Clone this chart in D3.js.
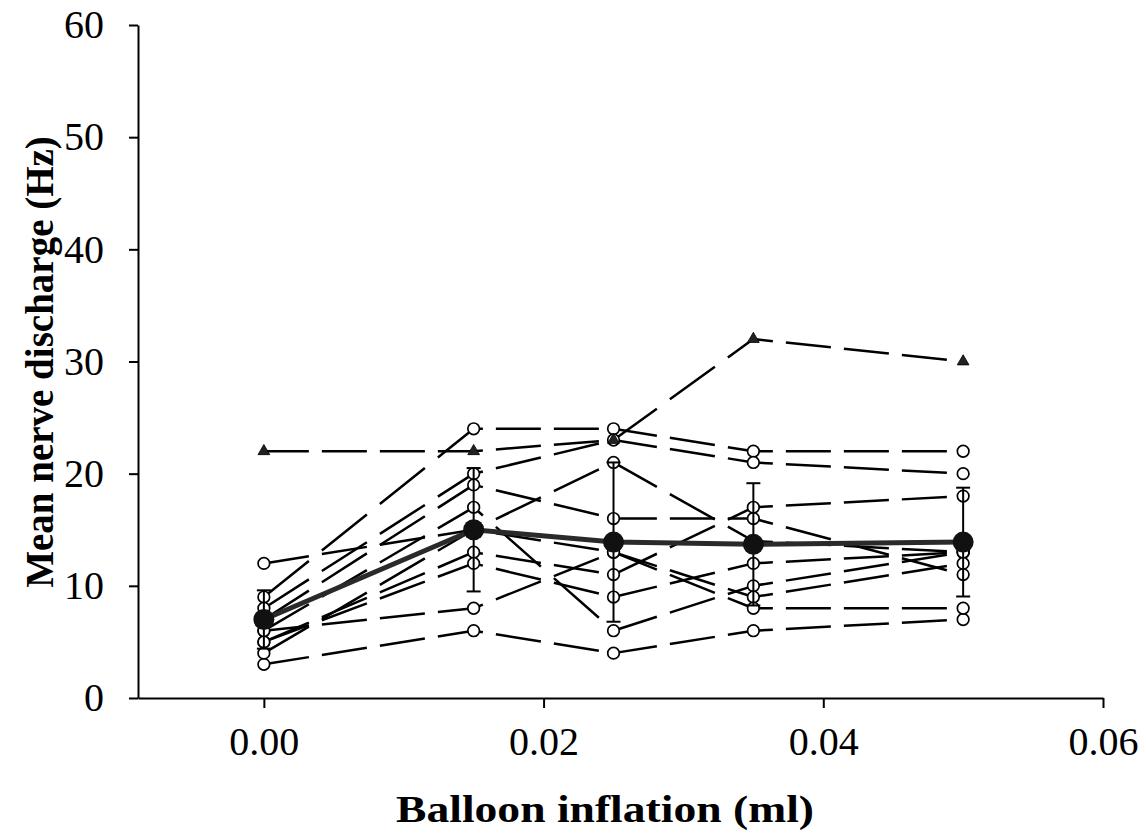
<!DOCTYPE html>
<html>
<head>
<meta charset="utf-8">
<script src="https://cdn.jsdelivr.net/npm/d3@7"></script>
<style>
  body { margin: 0; background: #fff; }
  svg text { font-family: "Liberation Serif", "Times New Roman", serif; fill: #000; }
</style>
</head>
<body>
<div id="chart"></div>
<script>
// balloon volumes (ml)
var volumes = [0, 0.015, 0.025, 0.035, 0.05];

// single fibres, open circles
var circleSeries = [
    [9, 24, 24, 22, 22],
    [8, 20, 23, 21, 20],
    [12, 15, 21, 14, 13],
    [7, 19, 16, 16, 11],
    [6, 17, 6, 10, 13],
    [5, 13, 11, 17, 18],
    [5, 12, 9, 12, 13],
    [6, 8, 13, 9, 12],
    [3, 6, 4, 6, 7],
    [4, 15, 13, 8, 8]
];

// fibre shown with triangles
var triangleSeries = [22, 22, 23, 32, 30];

// mean and error
var meanValues = [7.0, 15.0, 13.9, 13.7, 13.9];
var meanErrors = [2.6, 5.5, 7.1, 5.45, 4.85];

var xTicks = [0, 0.02, 0.04, 0.06];
var yTicks = [0, 10, 20, 30, 40, 50, 60];

var width = 1146, height = 835;

var svg = d3.select("#chart").append("svg")
    .attr("width", width)
    .attr("height", height);

var x = d3.scaleLinear().domain([-0.009, 0.06]).range([138, 1103]);
var y = d3.scaleLinear().domain([0, 60]).range([698, 25]);

// axes
svg.append("g")
    .attr("transform", "translate(0," + y(0) + ")")
    .call(d3.axisBottom(x).tickValues(xTicks).tickSize(10).tickSizeOuter(0).tickPadding(19)
        .tickFormat(d3.format(".2f")))
    .call(function(g) {
        g.select(".domain").attr("stroke-width", 2);
        g.selectAll(".tick line").attr("stroke-width", 2);
        g.selectAll(".tick text").style("font-size", "40px").attr("font-family", null);
    });

svg.append("g")
    .attr("transform", "translate(" + x(-0.009) + ",0)")
    .call(d3.axisLeft(y).tickValues(yTicks).tickSize(9).tickSizeOuter(0).tickPadding(25))
    .call(function(g) {
        g.select(".domain").attr("stroke-width", 2);
        g.selectAll(".tick line").attr("stroke-width", 2);
        g.selectAll(".tick text").style("font-size", "40px").attr("font-family", null);
    });

svg.append("text")
    .attr("x", 605).attr("y", 822)
    .attr("text-anchor", "middle")
    .attr("textLength", 418)
    .attr("lengthAdjust", "spacingAndGlyphs")
    .style("font-size", "38px").style("font-weight", "bold")
    .text("Balloon inflation (ml)");

svg.append("text")
    .attr("transform", "translate(53,362) rotate(-90)")
    .attr("text-anchor", "middle")
    .style("font-size", "39px").style("font-weight", "bold")
    .text("Mean nerve discharge (Hz)");

// dashes follow the x direction, so each segment gets its own scaled pattern
var dashPeriod = 58, dashOn = 45;

function drawDashed(values, color) {
    for (var i = 0; i < values.length - 1; i++) {
        var x1 = x(volumes[i]), y1 = y(values[i]);
        var x2 = x(volumes[i + 1]), y2 = y(values[i + 1]);
        var k = Math.hypot(x2 - x1, y2 - y1) / (x2 - x1);
        var off = ((x1 - x(0)) % dashPeriod) * k;
        svg.append("line")
            .attr("x1", x1).attr("y1", y1)
            .attr("x2", x2).attr("y2", y2)
            .attr("stroke", color)
            .attr("stroke-width", 2.5)
            .attr("stroke-dasharray", (dashOn * k) + "," + ((dashPeriod - dashOn) * k))
            .attr("stroke-dashoffset", off);
    }
}

circleSeries.forEach(function(s) { drawDashed(s, "#000"); });
drawDashed(triangleSeries, "#000");

// mean line
var line = d3.line()
    .x(function(d, i) { return x(volumes[i]); })
    .y(function(d) { return y(d); });

svg.append("path")
    .datum(meanValues)
    .attr("d", line)
    .attr("fill", "none")
    .attr("stroke", "#2a2a2a")
    .attr("stroke-width", 5);

// open circles
circleSeries.forEach(function(s) {
    svg.append("g").selectAll("circle")
        .data(s)
        .enter().append("circle")
        .attr("cx", function(d, i) { return x(volumes[i]); })
        .attr("cy", function(d) { return y(d); })
        .attr("r", 5.8)
        .attr("fill", "#fff")
        .attr("stroke", "#000")
        .attr("stroke-width", 1.7);
});

// error bars
var eb = svg.append("g").selectAll("g")
    .data(meanValues)
    .enter().append("g")
    .attr("stroke", "#000")
    .attr("stroke-width", 2);

eb.append("line")
    .attr("x1", function(d, i) { return x(volumes[i]); })
    .attr("x2", function(d, i) { return x(volumes[i]); })
    .attr("y1", function(d, i) { return y(d + meanErrors[i]); })
    .attr("y2", function(d, i) { return y(d - meanErrors[i]); });

[1, -1].forEach(function(sign) {
    eb.append("line")
        .attr("x1", function(d, i) { return x(volumes[i]) - 7; })
        .attr("x2", function(d, i) { return x(volumes[i]) + 7; })
        .attr("y1", function(d, i) { return y(d + sign * meanErrors[i]); })
        .attr("y2", function(d, i) { return y(d + sign * meanErrors[i]); });
});

// triangles
svg.append("g").selectAll("path")
    .data(triangleSeries)
    .enter().append("path")
    .attr("d", d3.symbol().type(d3.symbolTriangle).size(60))
    .attr("transform", function(d, i) { return "translate(" + x(volumes[i]) + "," + y(d) + ")"; })
    .attr("fill", "#222")
    .attr("stroke", "#000")
    .attr("stroke-width", 0.8);

// mean markers
svg.append("g").selectAll("circle")
    .data(meanValues)
    .enter().append("circle")
    .attr("cx", function(d, i) { return x(volumes[i]); })
    .attr("cy", function(d) { return y(d); })
    .attr("r", 10.5)
    .attr("fill", "#111");
</script>
</body>
</html>
